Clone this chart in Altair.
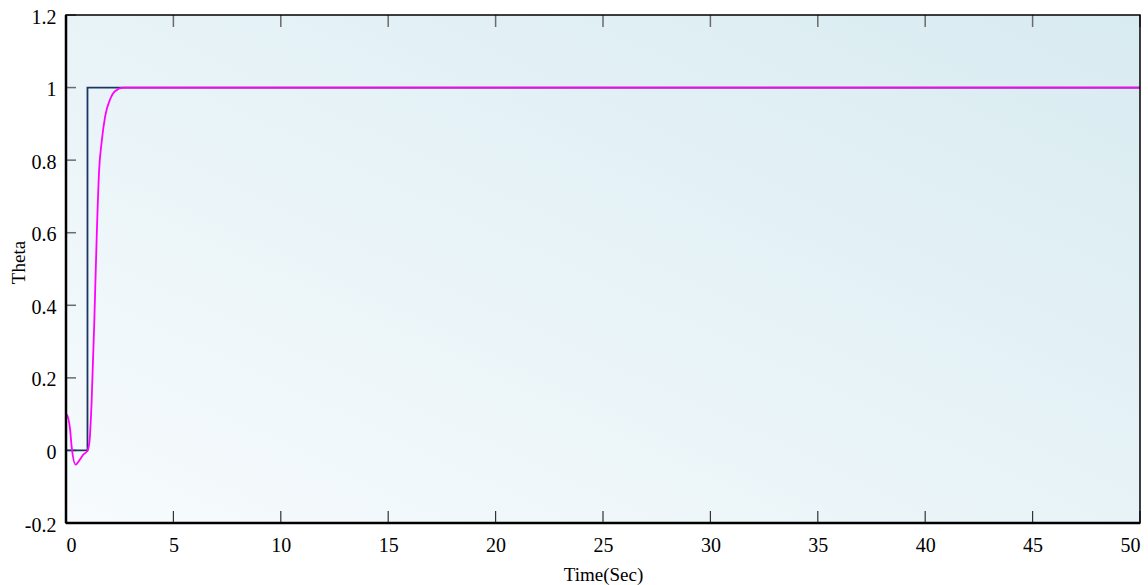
import altair as alt
import pandas as pd

# Reference step input
time_step = [0, 1, 50]
ref_step = [0, 1, 1]

# System response
time_resp = [0, 0.03, 0.19, 0.26, 0.45, 0.65, 0.81, 0.99, 1.09, 1.19, 1.32, 1.43,
             1.54, 1.66, 1.82, 2.05, 2.28, 2.67, 3.5, 6, 50]
theta_resp = [0.1, 0.099, 0.058, 0.012, -0.039, -0.025, -0.011, -0.002, 0.022, 0.13,
              0.36, 0.59, 0.77, 0.85, 0.92, 0.967, 0.99, 1.0, 1.0, 1.0, 1.0]

x_ticks = [0, 5, 10, 15, 20, 25, 30, 35, 40, 45, 50]
y_ticks = [-0.2, 0, 0.2, 0.4, 0.6, 0.8, 1, 1.2]

W, H = 1074, 508
FONT = "Liberation Serif"

xs = alt.Scale(domain=[0, 50], nice=False, zero=False)
ys = alt.Scale(domain=[-0.2, 1.2], nice=False, zero=False)

x_axis = alt.Axis(values=x_ticks, labelExpr="toString(datum.value)", title="Time(Sec)")
y_axis = alt.Axis(values=y_ticks, labelExpr="toString(datum.value)", title="Theta")

step_df = pd.DataFrame({"t": time_step, "v": ref_step})
resp_df = pd.DataFrame({"t": time_resp, "v": theta_resp})
xt_df = pd.DataFrame({"t": x_ticks})
yt_df = pd.DataFrame({"v": y_ticks})
one = pd.DataFrame({"a": [0]})

bg = alt.Chart(one).mark_rect(
    fill=alt.Gradient(
        gradient="linear",
        stops=[alt.GradientStop(color="#f7fbfd", offset=0),
               alt.GradientStop(color="#d8ebf1", offset=1)],
        x1=0, y1=1, x2=1, y2=0,
    ),
    strokeWidth=0,
).encode(x=alt.value(0), x2=alt.value(W), y=alt.value(0), y2=alt.value(H))

step = alt.Chart(step_df).mark_line(interpolate="step-after", color="#1c3663", strokeWidth=1.8).encode(
    x=alt.X("t:Q", scale=xs, axis=x_axis), y=alt.Y("v:Q", scale=ys, axis=y_axis))

resp = alt.Chart(resp_df).mark_line(interpolate="monotone", color="#ff00ff", strokeWidth=1.8).encode(
    x=alt.X("t:Q", scale=xs, axis=x_axis), y=alt.Y("v:Q", scale=ys, axis=y_axis))

xt_bottom = alt.Chart(xt_df).mark_rule(color="#333333", strokeWidth=1.2).encode(
    x=alt.X("t:Q", scale=xs, axis=x_axis), y=alt.value(H), y2=alt.value(H - 12))
xt_top = alt.Chart(xt_df).mark_rule(color="#6b6b6b", strokeWidth=1.5).encode(
    x=alt.X("t:Q", scale=xs, axis=x_axis), y=alt.value(0), y2=alt.value(12))
yt_left = alt.Chart(yt_df).mark_rule(color="#6b6b6b", strokeWidth=1.5).encode(
    y=alt.Y("v:Q", scale=ys, axis=y_axis), x=alt.value(0), x2=alt.value(10))

frame = alt.Chart(one).mark_rect(fillOpacity=0, stroke="black", strokeWidth=1.5).encode(
    x=alt.value(0), x2=alt.value(W), y=alt.value(0), y2=alt.value(H))
left_edge = alt.Chart(one).mark_rule(color="black", strokeWidth=2.5).encode(
    x=alt.value(0), y=alt.value(0), y2=alt.value(H))
bottom_edge = alt.Chart(one).mark_rule(color="black", strokeWidth=2.5).encode(
    x=alt.value(0), x2=alt.value(W), y=alt.value(H))

chart = alt.layer(bg, xt_bottom, xt_top, yt_left, step, resp, frame, left_edge, bottom_edge).properties(
    width=W, height=H,
    autosize=alt.AutoSizeParams(type="none"),
    padding={"left": 66, "top": 15, "right": 8, "bottom": 62},
    background="white",
).configure_view(strokeWidth=0).configure_axis(
    ticks=False, tickSize=0, domain=False, grid=False,
    labelFont=FONT, labelFontSize=20, labelColor="black",
    titleFont=FONT, titleFontSize=19, titleFontWeight="normal", titleColor="black",
).configure_axisX(
    labelFlush=True, labelPadding=12, titleBaseline="middle", titleY=51,
).configure_axisY(
    labelPadding=10, labelOffset=2, labelBaseline="middle",
    titleBaseline="middle", titleX=-48, titleY=247,
)

chart.save("out.html", embed_options={"renderer": "svg", "actions": False})
